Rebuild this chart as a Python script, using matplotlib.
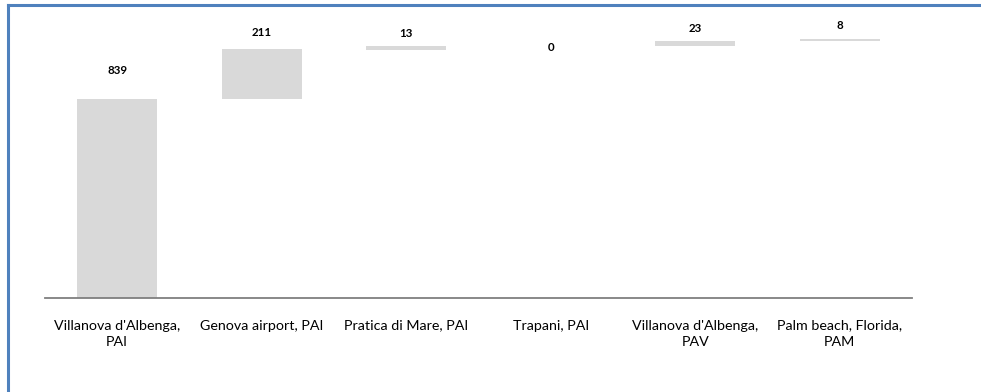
import matplotlib
matplotlib.use("Agg")
import matplotlib.pyplot as plt
from matplotlib.lines import Line2D
import numpy as np

categories = ["Villanova d'Albenga,\nPAI", "Genova airport, PAI", "Pratica di Mare, PAI",
              "Trapani, PAI", "Villanova d'Albenga,\nPAV", "Palm beach, Florida,\nPAM"]
values = [839, 211, 13, 0, 23, 8]
label_offsets_px = [29, 17, 13, -1, 12, 14]

plt.rcParams['font.family'] = ['Lato', 'DejaVu Sans']

fig = plt.figure(figsize=(9.81, 3.92), dpi=100)
ax = fig.add_axes([45/981, 1 - 298/392, (912-45)/981, (298-14)/392])

vals = np.array(values)
bases = np.concatenate([[0], np.cumsum(vals)[:-1]])
x = np.arange(len(categories))
ax.bar(x, vals, bottom=bases, width=0.555, color='#d9d9d9', edgecolor='none')

for xi, b, v, off in zip(x, bases, vals, label_offsets_px):
    ax.annotate(str(v), (xi, b + v), xytext=(0, off * 0.72), textcoords='offset points',
                ha='center', va='center', fontsize=8.3, fontweight='bold', color='#000000')

ax.set_xlim(-0.5, len(categories) - 0.5)
ax.set_ylim(0, 1200)
ax.set_yticks([])
ax.set_xticks(x)
ax.set_xticklabels(categories, fontsize=10.3, color='#000000', linespacing=1.4)
ax.tick_params(axis='x', length=0, pad=15.5)
for s in ['top', 'right', 'left']:
    ax.spines[s].set_visible(False)
ax.spines['bottom'].set_color('#7f7f7f')
ax.spines['bottom'].set_linewidth(1.3)

# outer border (chart frame)
fig.add_artist(Line2D([8/981, 1.0], [1 - 5/392, 1 - 5/392], transform=fig.transFigure,
                      color='#4f81bd', linewidth=2.2))
fig.add_artist(Line2D([8/981, 8/981], [0, 1 - 5/392], transform=fig.transFigure,
                      color='#4f81bd', linewidth=2.2))

fig.savefig('out.png', dpi=100)
